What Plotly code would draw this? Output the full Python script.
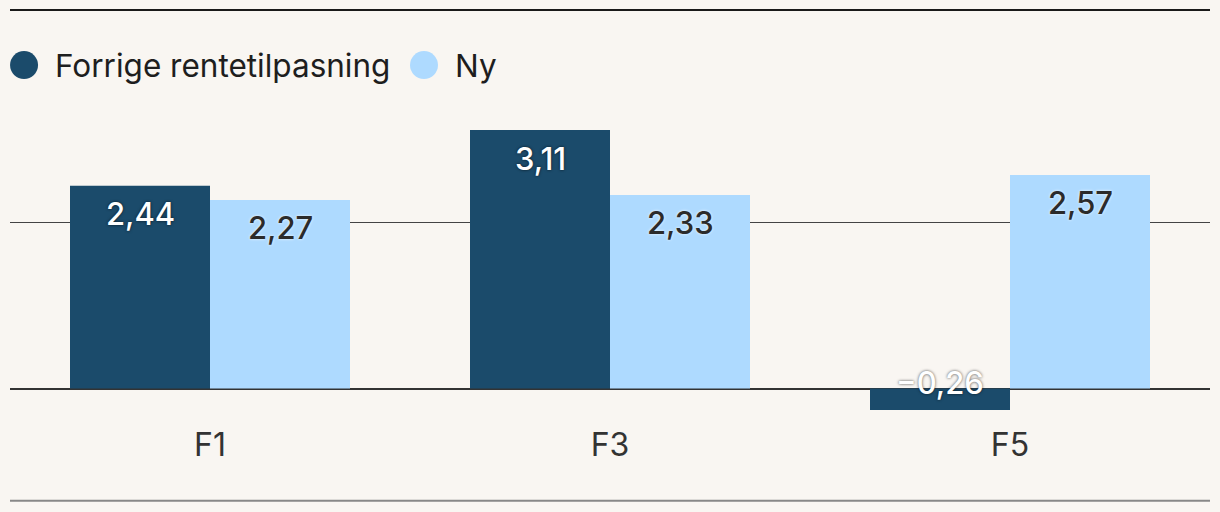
import plotly.graph_objects as go

categories = ["F1", "F3", "F5"]
series_names = ["Forrige rentetilpasning", "Ny"]
previous = [2.44, 3.11, -0.26]
new = [2.27, 2.33, 2.57]

DARK = "#1b4b6b"
LIGHT = "#aedaff"
BG = "#f9f6f2"
FONT = "Inter, 'Noto Sans', sans-serif"


def fmt(v):
    return f"{v:.2f}".replace(".", ",").replace("-", "\u2212")


fig = go.Figure()
fig.add_trace(go.Bar(x=categories, y=previous, name=series_names[0],
                     marker={"color": DARK, "line": {"width": 0}}, showlegend=False))
fig.add_trace(go.Bar(x=categories, y=new, name=series_names[1],
                     marker={"color": LIGHT, "line": {"width": 0}}, showlegend=False))

annotations = []
for values, shift, color, shadow in [
    (previous, -70, "white", "0px 0px 3px rgba(0,0,0,0.7)"),
    (new, 70, "#2b2b2b", "0px 0px 3px rgba(255,255,255,0.9)"),
]:
    for cat, v in zip(categories, values):
        annotations.append(dict(
            x=cat, y=max(v, 0), xref="x", yref="y",
            text=fmt(v), showarrow=False, xshift=shift,
            yshift=-28 if v > 0 else 6, yanchor="middle",
            font={"family": FONT, "size": 31, "color": color, "shadow": shadow,
                  "weight": 500},
        ))

# legend drawn by hand to get large round markers
legend_x = [0.0117, 0.345]
shapes = []
for name, color, lx in zip(series_names, [DARK, LIGHT], legend_x):
    shapes.append(dict(type="circle", xref="paper", yref="paper",
                       xsizemode="pixel", ysizemode="pixel",
                       xanchor=lx, yanchor=1.109, x0=-14, x1=14, y0=-14, y1=14,
                       fillcolor=color, line={"width": 0}))
    annotations.append(dict(x=lx, y=1.109, xref="paper", yref="paper",
                            xanchor="left", yanchor="middle", xshift=29,
                            text=name, showarrow=False,
                            font={"family": FONT, "size": 31.5, "color": "#1e1e1e"}))

shapes.append(dict(type="line", xref="paper", yref="paper", x0=0, x1=1,
                   y0=1.281, y1=1.281, line={"color": "#1a1a1a", "width": 2}))
shapes.append(dict(type="line", xref="paper", yref="paper", x0=0, x1=1,
                   y0=-0.252, y1=-0.252, line={"color": "#888888", "width": 2}))

fig.update_layout(
    width=1220, height=512,
    margin={"l": 10, "r": 10, "t": 100, "b": 92},
    paper_bgcolor=BG, plot_bgcolor=BG,
    barmode="group", bargap=0.3, bargroupgap=0,
    font={"family": FONT, "color": "#333333"},
    xaxis={"showgrid": False, "showline": False, "ticks": "",
           "tickfont": {"size": 32, "color": "#333333"},
           "ticklabelstandoff": 3},
    yaxis={"range": [-0.379, 3.472], "tickvals": [2], "showticklabels": False,
           "showgrid": True, "gridcolor": "#444444", "gridwidth": 1,
           "zeroline": True, "zerolinecolor": "#333333", "zerolinewidth": 2},
    annotations=annotations, shapes=shapes,
    showlegend=False,
)

fig.write_html(
    "out.html",
    config={"displayModeBar": False},
    post_script="document.body.style.margin='0';document.body.style.background='%s';" % BG,
)
